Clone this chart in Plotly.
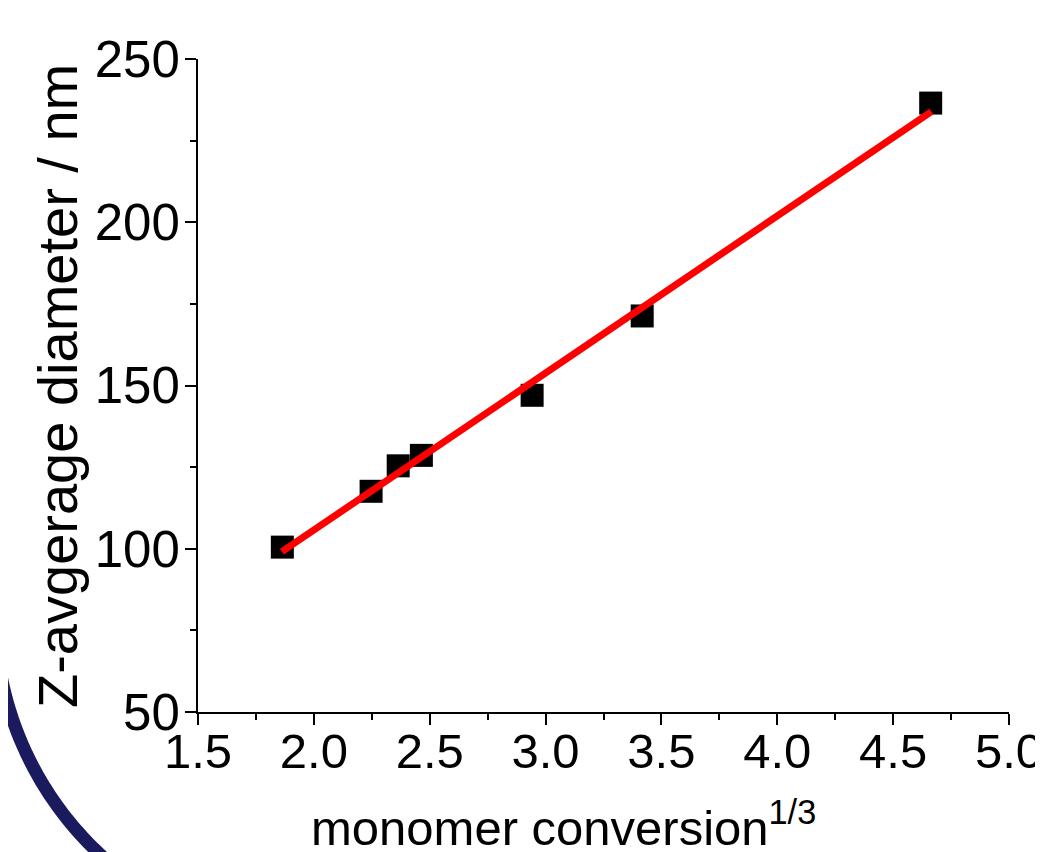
import numpy as np
import plotly.graph_objects as go

# data
conv_x = [1.864, 2.247, 2.364, 2.464, 2.942, 3.417, 4.662]
diam_y = [100.5, 117.6, 125.4, 128.6, 147.0, 171.3, 236.5]
fit_x = [1.862, 4.665]
fit_y = [99.1, 233.9]
x_ticks = [1.5, 2.0, 2.5, 3.0, 3.5, 4.0, 4.5, 5.0]
y_ticks = [50, 100, 150, 200, 250]

OFF = 8  # page body margin
W, H = 1043 - OFF, 852 - OFF
L, T = 198 - OFF, 59 - OFF
pw, ph = 811, 653
R, B = W - L - pw, H - T - ph

def px2paper(px, py):
    # px, py in browser-window pixels
    return (px - OFF - L) / pw, (H - B - (py - OFF)) / ph

font_family = "Arial, Liberation Sans, sans-serif"

fig = go.Figure()
fig.add_trace(go.Scatter(x=conv_x, y=diam_y, mode="markers",
                         marker=dict(symbol="square", size=23, color="black",
                                     line=dict(width=0)),
                         showlegend=False, cliponaxis=False))
fig.add_trace(go.Scatter(x=fit_x, y=fit_y, mode="lines",
                         line=dict(color="#ff0000", width=7),
                         showlegend=False))

axis_common = dict(showgrid=False, zeroline=False, showline=True, linecolor="black",
                   linewidth=2, ticks="outside", ticklen=11, tickwidth=2,
                   tickcolor="black", mirror=False, automargin=False,
                   ticklabeloverflow="allow")

fig.update_xaxes(range=[1.5, 5.0], tickvals=x_ticks,
                 ticktext=[f"{v:.1f}" for v in x_ticks], ticklabelstandoff=-16,
                 tickfont=dict(family=font_family, size=49, color="black"),
                 minor=dict(ticks="outside", ticklen=6, tickwidth=2,
                            tickcolor="black", dtick=0.25, tick0=1.5),
                 **axis_common)
fig.update_yaxes(range=[50, 250], tickvals=y_ticks, ticklabelstandoff=-5,
                 tickfont=dict(family=font_family, size=51, color="black"),
                 minor=dict(ticks="outside", ticklen=6, tickwidth=2,
                            tickcolor="black", dtick=25, tick0=50),
                 **axis_common)

# decorative navy arc at bottom-left
theta = np.radians(np.linspace(176, 124, 40))
cx, cy, rad = 325, 613, 330
pts = [px2paper(cx + rad * np.cos(t), cy + rad * np.sin(t)) for t in theta]
path = "M " + " L ".join(f"{a:.5f},{b:.5f}" for a, b in pts)
fig.add_shape(type="path", path=path, xref="paper", yref="paper",
              line=dict(color="#1b1a5e", width=13), layer="above")

xt_x, xt_y = px2paper(563, 857)
yt_x, yt_y = px2paper(58, 386)
fig.add_annotation(text="monomer conversion<sup>1/3</sup>", xref="paper", yref="paper",
                   x=xt_x, y=xt_y, xanchor="center", yanchor="bottom", showarrow=False,
                   font=dict(family=font_family, size=49, color="black"))
fig.add_annotation(text="Z-avgerage diameter / nm", xref="paper", yref="paper",
                   x=yt_x, y=yt_y, xanchor="center", yanchor="middle", showarrow=False,
                   textangle=-90,
                   font=dict(family=font_family, size=56, color="black"))

fig.update_layout(width=W, height=H, margin=dict(l=L, r=R, t=T, b=B, pad=0),
                  paper_bgcolor="white", plot_bgcolor="white", showlegend=False)

fig.write_html("out.html")
